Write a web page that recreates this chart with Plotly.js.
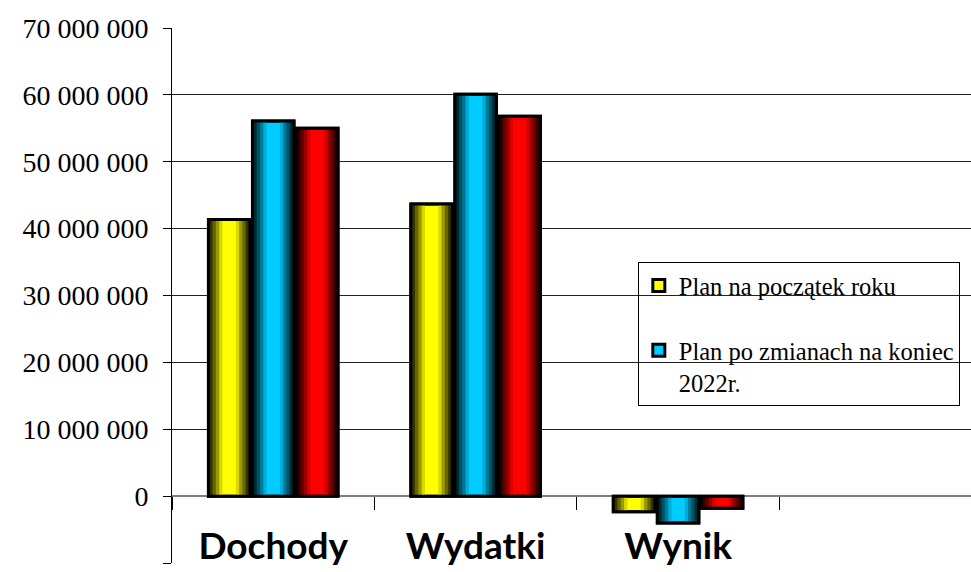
<!DOCTYPE html>
<html><head><meta charset="utf-8">
<script src="https://cdn.plot.ly/plotly-3.0.1.min.js"></script>
<style>html,body{margin:0;padding:0;background:#fff;}#chart{width:971px;height:572px;}</style>
</head><body><div id="chart"></div>
<script>
// ---- data ----
const categories = ['Dochody', 'Wydatki', 'Wynik'];
const seriesNames = ['Plan na początek roku', 'Plan po zmianach na koniec<br>2022r.', 'Wykonanie 2022r.'];
const planStart = [41350000, 43700000, -2350000];
const planChanged = [56100000, 60100000, -4000000];
const executed = [55000000, 56800000, -1800000];
const yTickVals = [-10000000, 0, 10000000, 20000000, 30000000, 40000000, 50000000, 60000000, 70000000];
const yTickText = ['-10 000 000', '0', '10 000 000', '20 000 000', '30 000 000', '40 000 000', '50 000 000', '60 000 000', '70 000 000'];

// ---- style ----
const SERIF = '"Liberation Serif"';
const seriesValues = [planStart, planChanged, executed];
const baseColors = [[255, 255, 0], [0, 204, 255], [255, 0, 0]];
const inLegend = [true, true, false];
const BW = 0.205;
const centers = [-0.2175, 0, 0.2175];
const stripDepth = [0.34, 0.26, 0.18, 0.1];
const stripBright = [0.85, 0.6, 0.4, 0.2];

function rgb(c, f) {
  return 'rgb(' + c.map(v => Math.round(v * f)).join(',') + ')';
}

const traces = [];
seriesValues.forEach((vals, s) => {
  const c = centers[s];
  const left = c - BW / 2;
  const right = c + BW / 2;
  const group = 'g' + s;
  traces.push({
    type: 'bar', x: categories, y: vals, name: seriesNames[s],
    width: BW, offset: left, legendgroup: group, showlegend: inLegend[s],
    marker: { color: rgb(baseColors[s], 1), line: { color: '#000', width: 3 } },
    hoverinfo: 'skip'
  });
  stripDepth.forEach((d, k) => {
    const w = BW * d;
    const col = rgb(baseColors[s], stripBright[k]);
    traces.push({
      type: 'bar', x: categories, y: vals, width: w, offset: left,
      legendgroup: group, showlegend: false,
      marker: { color: col, line: { width: 0 } }, hoverinfo: 'skip'
    });
    traces.push({
      type: 'bar', x: categories, y: vals, width: w, offset: right - w,
      legendgroup: group, showlegend: false,
      marker: { color: col, line: { width: 0 } }, hoverinfo: 'skip'
    });
  });
  traces.push({
    type: 'bar', x: categories, y: vals, width: BW, offset: left,
    legendgroup: group, showlegend: false,
    marker: { color: 'rgba(0,0,0,0)', line: { color: '#000', width: 3 } },
    hoverinfo: 'skip'
  });
});

const layout = {
  width: 971, height: 572,
  margin: { l: 172, r: 0, t: 28, b: 9, pad: 0 },
  paper_bgcolor: '#fff', plot_bgcolor: 'rgba(0,0,0,0)',
  barmode: 'overlay',
  hovermode: false,
  showlegend: true,
  font: { family: SERIF, color: '#000' },
  legend: {
    x: 0.583, y: 0.5626, xanchor: 'left', yanchor: 'top',
    bgcolor: 'rgba(0,0,0,0)', bordercolor: '#000', borderwidth: 1,
    font: { family: SERIF, size: 24.5, color: '#000' },
    traceorder: 'grouped', tracegroupgap: 30, valign: 'top'
  },
  xaxis: {
    type: 'category', range: [-0.5, 3.447], autorange: false,
    anchor: 'free', position: 0.125,
    showline: false, showgrid: false, zeroline: false,
    ticks: 'outside', tickson: 'boundaries', ticklen: 13, tickwidth: 1, tickcolor: '#000',
    tickfont: { family: 'Lato', size: 37, color: '#000', weight: 'bold' },
    ticklabelstandoff: 25,
    automargin: false, fixedrange: true
  },
  yaxis: {
    range: [-10000000, 70000000], autorange: false,
    tickvals: yTickVals, ticktext: yTickText,
    showline: true, linecolor: '#000', linewidth: 1,
    showgrid: true, gridcolor: '#222', gridwidth: 1,
    zeroline: true, zerolinecolor: '#808080', zerolinewidth: 2,
    ticks: 'outside', ticklen: 8, tickwidth: 1, tickcolor: '#000',
    tickfont: { family: SERIF, size: 28, color: '#000' },
    ticklabelstandoff: 9,
    automargin: false, fixedrange: true
  }
};

Plotly.newPlot('chart', traces, layout, { staticPlot: true, displayModeBar: false });
</script>
</body></html>
